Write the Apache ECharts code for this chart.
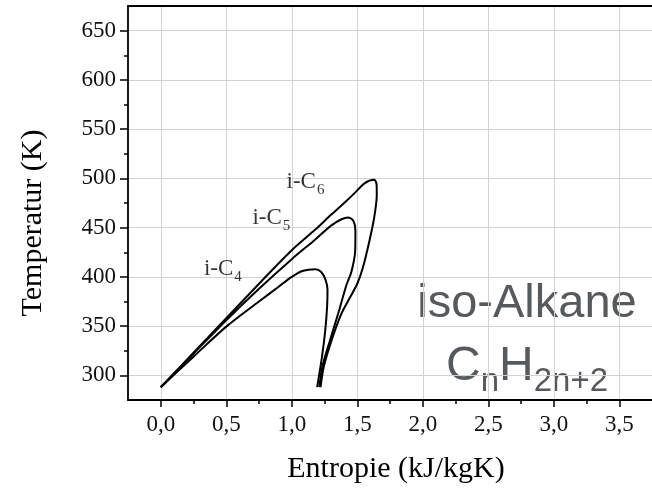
<!DOCTYPE html>
<html>
<head>
<meta charset="utf-8">
<script src="https://cdn.jsdelivr.net/npm/echarts@6/dist/echarts.min.js"></script>
<style>html,body{margin:0;padding:0;background:#fff}#c{width:652px;height:488px}</style>
</head>
<body>
<div id="c"></div>
<script>
// ---- data ----
const xTicks = [0, 0.5, 1.0, 1.5, 2.0, 2.5, 3.0, 3.5];
const xMinor = [0.25, 0.75, 1.25, 1.75, 2.25, 2.75, 3.25];
const yTicks = [300, 350, 400, 450, 500, 550, 600, 650];
const yMinor = [325, 375, 425, 475, 525, 575, 625];

// i-C4 : [entropy, temperature]
const c4 = [[0,288],[0.25,319],[0.5,349.5],[0.75,375],[0.9,390],[1.0,400],[1.08,406],[1.18,407.8],
            [1.225,405],[1.258,397],[1.273,387],[1.27,370],[1.256,346],[1.231,319],[1.194,288]];
// i-C5
const c5 = [[0,288],[0.25,322],[0.5,356],[0.75,388],[1.0,418],[1.18,438],[1.3,452],[1.38,458.5],[1.43,460.3],
            [1.47,457],[1.486,447],[1.484,426],[1.455,405],[1.418,392],[1.355,363],[1.293,336],[1.234,309],[1.211,288]];
// i-C6
const c6 = [[0,288],[0.25,323],[0.5,358],[0.75,393],[1.0,427],[1.18,448],[1.3,463],[1.4,475],[1.48,485],[1.555,495],[1.63,498.5],
            [1.648,493],[1.649,483],[1.629,460],[1.592,436],[1.542,409],[1.50,393],[1.44,378],[1.38,363],[1.305,336],[1.245,309],[1.22,288]];

const curveNames = ['i-C4', 'i-C5', 'i-C6'];
const curveSubs = ['4', '5', '6'];
const labelX = [0.33, 0.70, 0.96];
const labelT = [408, 460, 496.5];

const xTitle = 'Entropie (kJ/kgK)';
const yTitle = 'Temperatur (K)';

// ---- chart ----
const chart = echarts.init(document.getElementById('c'), null, {renderer: 'canvas'});
const serif = 'Liberation Serif, Times New Roman, serif';
const sans = 'Liberation Sans, Arial, sans-serif';
const fmt = v => v.toFixed(1).replace('.', ',');

const lineSeries = [c4, c5, c6].map((d, i) => ({
  type: 'line', name: curveNames[i], data: d, showSymbol: false, symbol: 'none',
  smooth: 0.3, lineStyle: {color: '#000', width: 2}, z: 5, animation: false
}));

const annot = {
  type: 'scatter', symbolSize: 0, animation: false, silent: true,
  data: labelX.map((x, i) => ({value: [x, labelT[i]], sub: curveSubs[i]})),
  label: {
    show: true, position: 'right', distance: 0,
    formatter: p => '{a|i-C}{b|' + p.data.sub + '}',
    rich: {
      a: {fontFamily: serif, fontSize: 23, color: '#000'},
      b: {fontFamily: serif, fontSize: 15, color: '#000', padding: [17, 0, 0, 1]}
    }
  }
};

const option = {
  animation: false,
  backgroundColor: '#fff',
  grid: {left: 128, top: 6, width: 536, height: 394, containLabel: false},
  xAxis: [
    {type: 'value', min: -0.25, max: 3.75, position: 'bottom',
     axisLine: {onZero: false, lineStyle: {color: '#000', width: 1.8}},
     axisTick: {show: true, inside: false, length: 7, customValues: xTicks, lineStyle: {color: '#000', width: 1.5}},
     axisLabel: {customValues: xTicks, formatter: fmt, margin: 13, fontFamily: serif, fontSize: 23, color: '#111'},
     splitLine: {show: true, lineStyle: {color: '#d2d2d2', width: 1}}},
    {type: 'value', min: -0.25, max: 3.75, position: 'bottom',
     axisLine: {show: false, onZero: false},
     axisTick: {show: true, length: 4, customValues: xMinor, lineStyle: {color: '#000', width: 1.5}},
     axisLabel: {show: false}, splitLine: {show: false}},
    {type: 'value', min: -0.25, max: 3.75, position: 'top',
     axisLine: {show: true, onZero: false, lineStyle: {color: '#000', width: 1.8}},
     axisTick: {show: false}, axisLabel: {show: false}, splitLine: {show: false}}
  ],
  yAxis: [
    {type: 'value', min: 275, max: 675, position: 'left',
     axisLine: {onZero: false, lineStyle: {color: '#000', width: 1.8}},
     axisTick: {show: true, length: 8, customValues: yTicks, lineStyle: {color: '#000', width: 1.5}},
     axisLabel: {customValues: yTicks, margin: 12, fontFamily: serif, fontSize: 23, color: '#111'},
     splitLine: {show: true, lineStyle: {color: '#d2d2d2', width: 1}}},
    {type: 'value', min: 275, max: 675, position: 'left',
     axisLine: {show: false, onZero: false},
     axisTick: {show: true, length: 4, customValues: yMinor, lineStyle: {color: '#000', width: 1.5}},
     axisLabel: {show: false}, splitLine: {show: false}}
  ],
  series: [...lineSeries, annot],
  graphic: [
    {type: 'text', x: 396, y: 469, style: {text: xTitle, font: '30px ' + serif, fill: '#000', align: 'center', verticalAlign: 'middle'}},
    {type: 'text', x: 33, y: 223, rotation: Math.PI / 2, style: {text: yTitle, font: '30px ' + serif, fill: '#000', align: 'center', verticalAlign: 'middle'}},
    {type: 'text', x: 527, y: 304, style: {text: 'iso-Alkane', font: '47px ' + sans, fill: '#575a5c', align: 'center', verticalAlign: 'middle'}},
    {type: 'text', x: 527, y: 367, style: {
      text: '{c|C}{s|n}{c|H}{s|2n+2}', align: 'center', verticalAlign: 'middle',
      rich: {
        c: {font: '48px ' + sans, fill: '#575a5c', color: '#575a5c'},
        s: {font: '33px ' + sans, fill: '#575a5c', color: '#575a5c', padding: [30, 0, 0, 0]}
      }}}
  ]
};
chart.setOption(option);
</script>
</body>
</html>
